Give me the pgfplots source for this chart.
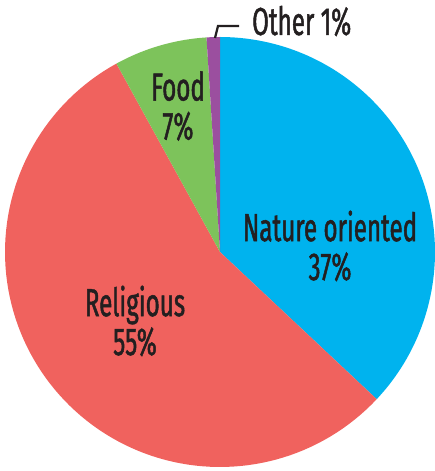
\documentclass[border=0pt]{standalone}
\usepackage{fontspec}
\setmainfont{Fira Sans}[FakeStretch=0.62, FakeBold=1.2]
\usepackage{pgfplots}
\pgfplotsset{compat=1.18}
\definecolor{cblue}{HTML}{00B3EE}
\definecolor{cred}{HTML}{F0625E}
\definecolor{cgreen}{HTML}{7DC35B}
\definecolor{cpurple}{HTML}{9B4F9F}
\definecolor{ctext}{HTML}{231F20}
\newcommand\lab{\fontsize{39}{39}\selectfont}
% start percent, percent, colour
\newcommand\slice[3]{%
  \addplot[fill=#3, draw=none, samples at={-1,0,1,...,100}]
    ({x<0 ? 0 : 215*cos(90-3.6*(#1+#2*x/100))},
     {x<0 ? 0 : 215*sin(90-3.6*(#1+#2*x/100))});
}
\begin{document}
\begin{tikzpicture}
\begin{axis}[x=1pt, y=1pt, xmin=-220, xmax=215, ymin=-219, ymax=252,
  hide axis, clip=false]
\slice{0}{37}{cblue}
\slice{37}{55}{cred}
\slice{92}{7}{cgreen}
\slice{99}{1}{cpurple}
\addplot[ctext, line width=2.3pt] coordinates {(-5,214) (-2,226) (19,226)};
\node[inner sep=0, align=center, text=ctext, font=\lab] at (axis cs:-42,146) {Food\\7\%};
\node[inner sep=0, align=center, text=ctext, font=\lab] at (axis cs:110,6) {Nature oriented\\37\%};
\node[inner sep=0, align=center, text=ctext, font=\lab] at (axis cs:-85,-69) {Religious\\55\%};
\node[inner sep=0, anchor=base west, text=ctext, font=\lab] at (axis cs:32,217) {Other 1\%};
\path (rel axis cs:0,0) (rel axis cs:1,1);
\end{axis}
\end{tikzpicture}
\end{document}
